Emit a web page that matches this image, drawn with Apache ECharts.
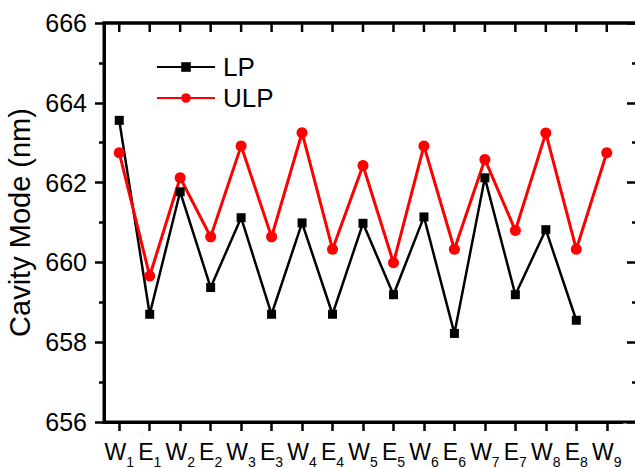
<!DOCTYPE html>
<html>
<head>
<meta charset="utf-8">
<script src="https://cdn.jsdelivr.net/npm/echarts@6/dist/echarts.min.js"></script>
<style>
  html, body { margin: 0; padding: 0; background: #fff; }
  #main { width: 635px; height: 468px; }
</style>
</head>
<body>
<div id="main"></div>
<script>
// sample positions along the axis
var categories = ['W1', 'E1', 'W2', 'E2', 'W3', 'E3', 'W4', 'E4', 'W5', 'E5', 'W6', 'E6', 'W7', 'E7', 'W8', 'E8', 'W9']
// cavity mode (nm)
var lpValues = [663.56, 658.70, 661.77, 659.37, 661.12, 658.70, 660.99, 658.70, 660.98, 659.19, 661.14, 658.22, 662.12, 659.19, 660.82, 658.55]
var ulpValues = [662.75, 659.66, 662.12, 660.64, 662.92, 660.64, 663.25, 660.33, 662.43, 659.99, 662.92, 660.33, 662.58, 660.80, 663.24, 660.33, 662.75]

var font = 'Liberation Sans, Arial, sans-serif'
var gridLeft = 104

function axisLine(show) {
  return { show: show, onZero: false, lineStyle: { color: '#000', width: 3 } }
}
function tick(opts) {
  return Object.assign({ show: true, lineStyle: { color: '#000', width: 2.5 } }, opts)
}

var chart = echarts.init(document.getElementById('main'), null, { renderer: 'svg' })

chart.setOption({
  animation: false,
  grid: [
    // data area: 17 bands of ~30.5px
    { left: gridLeft, top: 23, width: 518, height: 399, outerBoundsMode: 'none' },
    // frame, the box runs a little past the right edge of the picture
    {
      left: gridLeft, top: 23, width: 533, height: 399, outerBoundsMode: 'none',
      show: true, borderColor: '#000', borderWidth: 3, backgroundColor: 'transparent'
    }
  ],
  legend: {
    orient: 'vertical',
    left: 151,
    top: 49,
    itemWidth: 58,
    itemHeight: 12,
    itemGap: 5,
    textStyle: { fontSize: 26, color: '#000', fontFamily: font, padding: [0, 0, 0, 3] },
    data: ['LP', 'ULP']
  },
  xAxis: [{
    type: 'category',
    gridIndex: 0,
    position: 'bottom',
    data: categories,
    boundaryGap: true,
    axisLine: axisLine(true),
    splitLine: { show: false },
    axisTick: tick({ alignWithLabel: true, length: 9 }),
    axisLabel: {
      show: true,
      interval: 0,
      margin: 18,
      color: '#000',
      formatter: function (c) {
        return '{m|' + c.charAt(0) + '}{s|' + c.slice(1) + '}'
      },
      rich: {
        m: { fontSize: 23, fontFamily: font, color: '#000', verticalAlign: 'top', lineHeight: 26 },
        s: { fontSize: 14, fontFamily: font, color: '#000', verticalAlign: 'top', lineHeight: 12, padding: [15, 0, 0, 0] }
      }
    }
  }, {
    type: 'value',
    gridIndex: 1,
    position: 'bottom',
    min: 1,
    max: 2,
    axisLine: axisLine(false),
    axisTick: { show: false },
    splitLine: { show: false },
    axisLabel: { show: false }
  }],
  yAxis: [{
    type: 'value',
    gridIndex: 0,
    position: 'left',
    min: 656,
    max: 666,
    interval: 2,
    name: 'Cavity Mode (nm)',
    nameLocation: 'middle',
    nameGap: 70,
    nameTextStyle: { fontSize: 29, color: '#000', fontFamily: font },
    axisLine: axisLine(true),
    splitLine: { show: false },
    axisTick: tick({ length: 9 }),
    minorTick: { show: true, splitNumber: 2, length: 5, lineStyle: { color: '#000', width: 2.5 } },
    axisLabel: { show: true, fontSize: 25, color: '#000', margin: 17, fontFamily: font }
  }, {
    type: 'value',
    gridIndex: 1,
    position: 'right',
    min: 656,
    max: 666,
    interval: 2,
    axisLine: axisLine(true),
    splitLine: { show: false },
    axisTick: tick({ inside: true, length: 10 }),
    minorTick: { show: true, splitNumber: 2, length: 5, lineStyle: { color: '#000', width: 2.5 } },
    axisLabel: { show: false }
  }],
  series: [{
    name: 'LP',
    type: 'line',
    xAxisIndex: 0,
    yAxisIndex: 0,
    data: lpValues,
    symbol: 'rect',
    symbolSize: 9,
    itemStyle: { color: '#000' },
    lineStyle: { color: '#000', width: 2.5 }
  }, {
    name: 'ULP',
    type: 'line',
    xAxisIndex: 0,
    yAxisIndex: 0,
    data: ulpValues,
    symbol: 'circle',
    symbolSize: 11,
    itemStyle: { color: '#ff0000' },
    lineStyle: { color: '#ff0000', width: 3 }
  }]
})

// top edge of the box with its inward ticks, placed through the axes' own scales
var topY = chart.convertToPixel({ yAxisIndex: 0 }, 666)
var frame = [{
  type: 'line', z: 50,
  shape: { x1: gridLeft - 1.5, y1: topY, x2: 640, y2: topY },
  style: { stroke: '#000', lineWidth: 3 }
}]
categories.forEach(function (c) {
  var x = chart.convertToPixel({ xAxisIndex: 0 }, c)
  frame.push({
    type: 'line', z: 50,
    shape: { x1: x, y1: topY, x2: x, y2: topY + 9 },
    style: { stroke: '#000', lineWidth: 2.5 }
  })
})
chart.setOption({ graphic: frame })
</script>
</body>
</html>
